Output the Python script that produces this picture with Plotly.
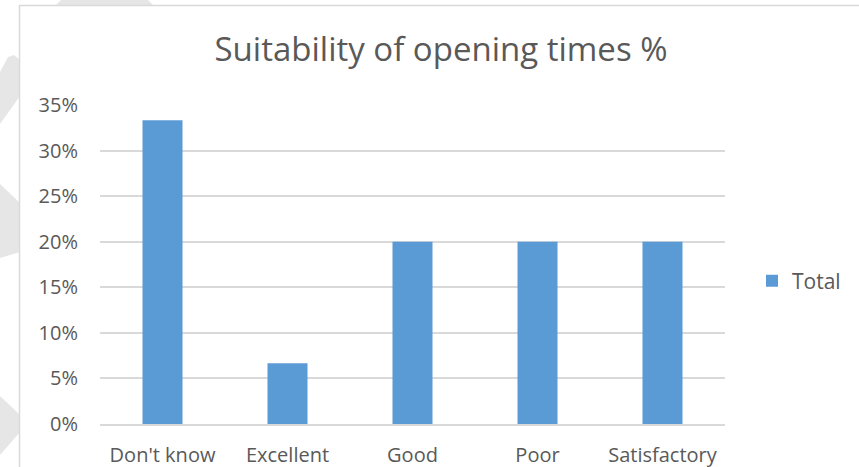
import plotly.graph_objects as go

categories = ["Don't know", "Excellent", "Good", "Poor", "Satisfactory"]
values = [0.3333, 0.0667, 0.20, 0.20, 0.20]
series_name = "Total"
y_ticks = [0, 0.05, 0.10, 0.15, 0.20, 0.25, 0.30, 0.35]

W, H = 859, 467
L, R, T, B = 100, 134, 105, 43
PW, PH = W - L - R, H - T - B

def px(x):
    return (x - L) / PW

def py(y):
    return (H - B - y) / PH

def path(pts):
    s = "M " + " L ".join(f"{px(x):.4f},{py(y):.4f}" for x, y in pts) + " Z"
    return s

font = "Open Sans"
grey = "#595959"

fig = go.Figure()
fig.add_trace(go.Bar(
    x=categories, y=values, name=series_name,
    marker=dict(color="#5b9bd5", line=dict(width=0)),
    showlegend=True,
))

shapes = []
wm = "#e6e6e6"
for pts in [
    [(0, 72), (8, 57), (14, 55), (20, 60), (20, 96), (0, 124)],
    [(0, 184), (20, 203), (20, 252), (0, 258)],
    [(0, 396), (20, 415), (20, 432), (0, 455)],
    [(55, 6), (61, 0), (148, 0), (154, 6)],
]:
    shapes.append(dict(type="path", path=path(pts), xref="paper", yref="paper",
                       fillcolor=wm, line=dict(width=0), layer="below"))
shapes.append(dict(type="rect", xref="paper", yref="paper",
                   x0=px(19.5), x1=px(870), y0=py(5.5), y1=py(480),
                   line=dict(color="#d9d9d9", width=1.5), fillcolor="white", layer="below"))

fig.update_layout(
    width=W, height=H,
    margin=dict(l=L, r=R, t=T, b=B, autoexpand=False),
    paper_bgcolor="white", plot_bgcolor="rgba(0,0,0,0)",
    title=dict(text="Suitability of opening times %", x=441 / W, xanchor="center",
               xref="container", y=1 - 49 / H, yanchor="middle",
               font=dict(family=font, size=33, color=grey)),
    bargap=0.68,
    shapes=shapes,
    legend=dict(x=px(752), y=py(281), xanchor="left", yanchor="middle",
                font=dict(family=font, size=21, color=grey),
                itemwidth=30, bgcolor="rgba(0,0,0,0)"),
    xaxis=dict(showgrid=False, showline=True, linecolor="#d9d9d9", linewidth=1.5,
               ticks="", tickfont=dict(family=font, size=20, color=grey),
               ticklabelstandoff=12),
    yaxis=dict(range=[0, 0.35], tickvals=y_ticks, tickformat=".0%",
               showgrid=True, gridcolor="#d9d9d9", gridwidth=1.5,
               zeroline=False, showline=False, ticks="",
               tickfont=dict(family=font, size=20, color=grey),
               ticklabelstandoff=21),
)

fig.write_html("out.html", config={"displayModeBar": False},
               post_script="document.body.style.margin='0';")
